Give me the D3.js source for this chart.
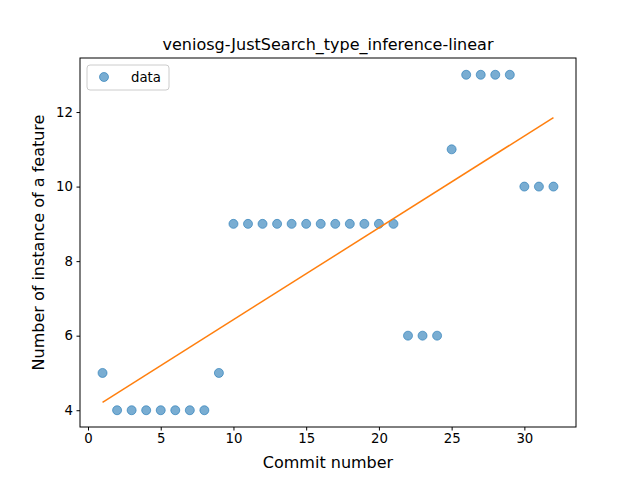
<!DOCTYPE html>
<html><head><meta charset="utf-8">
<script src="https://cdn.jsdelivr.net/npm/d3@7"></script>
<style>body{margin:0;background:#fff}text{font-family:"DejaVu Sans",sans-serif}</style>
</head><body>
<svg id="c" width="640" height="480"></svg>
<script>
const commits = d3.range(1, 33);
const counts = [5,4,4,4,4,4,4,4,5,9,9,9,9,9,9,9,9,9,9,9,9,6,6,6,11,13,13,13,13,10,10,10];
const xTicks = [0,5,10,15,20,25,30];
const yTicks = [4,6,8,10,12];

const svg = d3.select("#c");
const L=80,R=576,T=58,B=427;
const x = d3.scaleLinear().domain([-0.55,33.55]).range([L,R]);
const y = d3.scaleLinear().domain([3.55,13.45]).range([B,T]);

// linear fit
const n=commits.length, mx=d3.mean(commits), my=d3.mean(counts);
let sxy=0,sxx=0; for(let i=0;i<n;i++){sxy+=(commits[i]-mx)*(counts[i]-my);sxx+=(commits[i]-mx)**2;}
const slope=sxy/sxx, icp=my-slope*mx;

svg.append("g").selectAll("circle").data(commits).join("circle")
 .attr("cx",d=>x(d)).attr("cy",(d,i)=>y(counts[i])).attr("r",4.5)
 .attr("fill","#1f77b4").attr("fill-opacity",0.6).attr("stroke","#1f77b4").attr("stroke-opacity",0.6);
svg.append("line").attr("x1",x(1)).attr("y1",y(icp+slope)).attr("x2",x(32)).attr("y2",y(icp+slope*32))
 .attr("stroke","#ff7f0e").attr("stroke-width",1.5);

const gx=svg.append("g").attr("transform",`translate(0,${B})`).call(d3.axisBottom(x).tickValues(xTicks).tickSize(3.5).tickPadding(3.5));
const gy=svg.append("g").attr("transform",`translate(${L},0)`).call(d3.axisLeft(y).tickValues(yTicks).tickSize(3.5).tickPadding(3.5));
[gx,gy].forEach(g=>{g.select(".domain").remove();g.selectAll("text").attr("font-size",13.3).attr("font-family","DejaVu Sans").attr("fill","#000");g.selectAll("line").attr("stroke","#000");});
svg.append("rect").attr("x",L).attr("y",T).attr("width",R-L).attr("height",B-T).attr("fill","none").attr("stroke","#000").attr("stroke-width",1);

svg.append("text").attr("x",(L+R)/2).attr("y",T-8).attr("text-anchor","middle").attr("font-size",16).text("veniosg-JustSearch_type_inference-linear");
svg.append("text").attr("x",(L+R)/2).attr("y",468).attr("text-anchor","middle").attr("font-size",16).text("Commit number");
svg.append("text").attr("transform",`translate(44,${(T+B)/2}) rotate(-90)`).attr("text-anchor","middle").attr("font-size",16).text("Number of instance of a feature");

const lg=svg.append("g");
lg.append("rect").attr("x",87).attr("y",65).attr("width",82).attr("height",25).attr("rx",3).attr("fill","#fff").attr("fill-opacity",0.8).attr("stroke","#ccc");
lg.append("circle").attr("cx",104).attr("cy",77).attr("r",4.5).attr("fill","#1f77b4").attr("fill-opacity",0.6).attr("stroke","#1f77b4").attr("stroke-opacity",0.6);
lg.append("text").attr("x",131).attr("y",82).attr("font-size",13.3).text("data");
</script>
</body></html>
